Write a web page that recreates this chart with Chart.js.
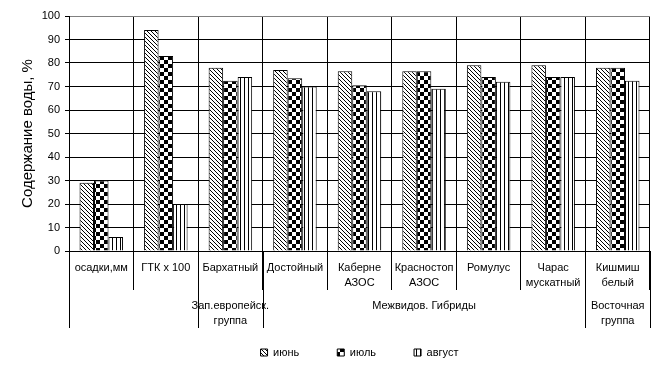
<!DOCTYPE html>
<html lang="ru">
<head>
<meta charset="utf-8">
<title>Содержание воды</title>
<script src="https://cdn.jsdelivr.net/npm/chart.js@4.4.1/dist/chart.umd.min.js"></script>
<style>
  html, body { margin: 0; padding: 0; background: #fff; }
  canvas { display: block; }
</style>
</head>
<body>
<canvas id="waterChart" width="664" height="368"></canvas>
<script>
// подписи категорий (строки внутри ячейки)
const categories = [
  ['осадки,мм'],
  ['ГТК х 100'],
  ['Бархатный'],
  ['Достойный'],
  ['Каберне', 'АЗОС'],
  ['Красностоп', 'АЗОС'],
  ['Ромулус'],
  ['Чарас', 'мускатный'],
  ['Кишмиш', 'белый']
]

// группы второго уровня: подпись, первая и последняя категория
const groupLabels = [[], ['Зап.европейск.', 'группа'], ['Межвидов. Гибриды'], ['Восточная', 'группа']]
const groupFrom = [0, 2, 3, 8]
const groupTo = [1, 2, 7, 8]

const seriesNames = ['июнь', 'июль', 'август']
const june = [29, 94, 78, 77, 76.5, 76.5, 79, 79, 78]
const july = [30, 83, 72.5, 73.5, 70.5, 76.5, 74, 74, 78]
const august = [6, 20, 74, 70, 68, 69, 72, 74, 72.5]

const yTicks = [0, 10, 20, 30, 40, 50, 60, 70, 80, 90, 100]

const FONT = '"Liberation Sans", Arial, sans-serif'

// штриховки в стиле Excel
function makePattern(size, draw) {
  const c = document.createElement('canvas')
  c.width = size
  c.height = size
  const g = c.getContext('2d')
  g.fillStyle = '#fff'
  g.fillRect(0, 0, size, size)
  g.fillStyle = '#000'
  draw(g)
  return g.createPattern(c, 'repeat')
}

const diagonal = makePattern(4, g => {
  for (let i = 0; i < 4; i++) g.fillRect(i, i, 1, 1)
})
const checker = makePattern(8, g => {
  g.fillRect(0, 0, 4, 4)
  g.fillRect(4, 4, 4, 4)
})
const vertical = makePattern(4, g => {
  g.fillRect(0, 0, 1, 4)
})

// многоуровневые подписи оси X
const multiLevelLabels = {
  id: 'multiLevelLabels',
  afterDraw(chart) {
    const ctx = chart.ctx
    const x = chart.scales.x
    const top = x.top
    const half = (x.getPixelForValue(1) - x.getPixelForValue(0)) / 2

    ctx.save()
    ctx.font = '11px ' + FONT
    ctx.fillStyle = '#000'
    ctx.textAlign = 'center'
    ctx.textBaseline = 'middle'

    categories.forEach((lines, i) => {
      const cx = x.getPixelForValue(i)
      lines.forEach((t, j) => ctx.fillText(t, cx, top + 17 + j * 15))
    })

    groupLabels.forEach((lines, k) => {
      const x0 = x.getPixelForValue(groupFrom[k]) - half
      const x1 = x.getPixelForValue(groupTo[k]) + half
      lines.forEach((t, j) => ctx.fillText(t, (x0 + x1) / 2, top + 55 + j * 15))
    })

    ctx.strokeStyle = '#000'
    ctx.lineWidth = 1
    ctx.beginPath()
    groupFrom.forEach((f, k) => {
      const x0 = Math.round(x.getPixelForValue(f) - half) + 0.5
      const x1 = Math.round(x.getPixelForValue(groupTo[k]) + half) + 0.5
      ctx.moveTo(x0, top)
      ctx.lineTo(x0, top + 77)
      ctx.moveTo(x1, top)
      ctx.lineTo(x1, top + 77)
    })
    ctx.stroke()
    ctx.restore()
  }
}

const ctx = document.getElementById('waterChart')
const fills = [diagonal, checker, vertical]
const values = [june, july, august]

new Chart(ctx, {
  type: 'bar',
  data: {
    labels: categories.map(c => c.join(' ')),
    datasets: seriesNames.map((name, i) => ({
      label: name,
      data: values[i],
      backgroundColor: fills[i],
      borderColor: '#000',
      borderWidth: 1,
      barPercentage: 1,
      categoryPercentage: 0.674
    }))
  },
  options: {
    responsive: false,
    animation: false,
    devicePixelRatio: 1,
    layout: {
      padding: { top: 16, right: 14, left: 0, bottom: 0 }
    },
    plugins: {
      tooltip: { enabled: false },
      legend: {
        position: 'bottom',
        fullSize: false,
        labels: {
          boxWidth: 7,
          boxHeight: 7,
          padding: 38,
          color: '#000',
          font: { family: FONT, size: 11 }
        }
      }
    },
    scales: {
      x: {
        offset: true,
        ticks: { display: false },
        grid: {
          offset: true,
          drawTicks: true,
          tickLength: 39,
          tickColor: '#000',
          color: c => (c.index === categories.length ? '#808080' : '#000')
        },
        border: { color: '#000', width: 1 },
        afterFit(scale) {
          scale.height = 58
        }
      },
      y: {
        min: 0,
        max: 100,
        afterBuildTicks(scale) {
          scale.ticks = yTicks.map(v => ({ value: v }))
        },
        ticks: {
          padding: 5,
          color: '#000',
          font: { family: FONT, size: 11 }
        },
        grid: {
          tickLength: 4,
          tickColor: '#000',
          color: c => (c.tick && c.tick.value === 100 ? '#808080' : '#000')
        },
        border: { color: '#000', width: 1 },
        title: {
          display: true,
          text: 'Содержание воды, %',
          color: '#000',
          padding: { top: 19, bottom: 0 },
          font: { family: FONT, size: 15 }
        },
        afterFit(scale) {
          scale.width = 69
        }
      }
    }
  },
  plugins: [multiLevelLabels]
})
</script>
</body>
</html>
